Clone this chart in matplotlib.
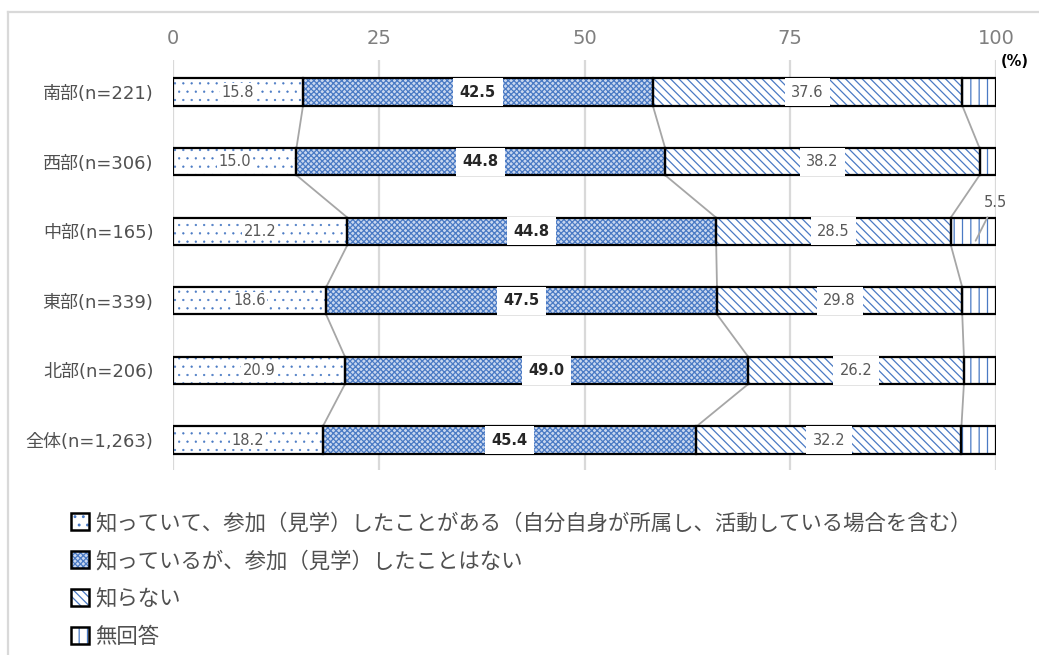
import matplotlib
matplotlib.use("Agg")
import matplotlib.pyplot as plt
import numpy as np
from matplotlib.lines import Line2D
from matplotlib.patches import Patch
from matplotlib.legend_handler import HandlerTuple

plt.rcParams['font.family'] = ['DejaVu Sans', 'Noto Sans CJK JP']
plt.rcParams['hatch.linewidth'] = 0.9

categories = ["南部(n=221)", "西部(n=306)", "中部(n=165)", "東部(n=339)", "北部(n=206)", "全体(n=1,263)"]
series_names = ["知っていて、参加（見学）したことがある（自分自身が所属し、活動している場合を含む）",
                "知っているが、参加（見学）したことはない",
                "知らない",
                "無回答"]
participated = [15.8, 15.0, 21.2, 18.6, 20.9, 18.2]
known_not = [42.5, 44.8, 44.8, 47.5, 49.0, 45.4]
unknown = [37.6, 38.2, 28.5, 29.8, 26.2, 32.2]
no_answer = [4.1, 2.0, 5.5, 4.1, 3.9, 4.2]
xticks = [0, 25, 50, 75, 100]

series = [participated, known_not, unknown, no_answer]
hatches = ['..', 'xxxxxx', '\\\\\\\\', '||']
hatch_lw = [0.4, 0.9, 0.9, 0.9]
faces = ['white', '#c9d7ef', 'white', 'white']
blue = '#4a7ac4'
label_styles = [
    dict(color='#595959', fontweight='normal'),
    dict(color='#262626', fontweight='bold'),
    dict(color='#595959', fontweight='normal'),
]

fig = plt.figure(figsize=(10.39, 6.55), dpi=100)
ax = fig.add_axes([173/1039, 1-470/655, 823/1039, 410/655])

y = np.arange(len(categories))
h = 0.39
left = np.zeros(len(categories))
for k, vals in enumerate(series):
    vals = np.array(vals)
    with plt.rc_context({'hatch.linewidth': hatch_lw[k]}):
        ax.barh(y, vals, left=left, height=h, color=faces[k], edgecolor=blue,
                linewidth=0, hatch=hatches[k], zorder=3)
    ax.barh(y, vals, left=left, height=h, fill=False, edgecolor='black',
            linewidth=1.6, zorder=4)
    if k < 3:
        for i, v in enumerate(vals):
            bb = dict(boxstyle='square,pad=0.45', fc='white', ec='none') if k > 0 else \
                 dict(boxstyle='square,pad=0.1', fc='white', ec='none')
            ax.text(left[i] + v/2, y[i], f"{v:.1f}", ha='center', va='center',
                    fontsize=10.5, zorder=5, bbox=bb, **label_styles[k])
    left = left + vals

# connector lines
cum = np.cumsum(np.array(series), axis=0)
for b in range(3):
    for i in range(len(categories)-1):
        ax.plot([cum[b][i], cum[b][i+1]], [y[i]+h/2, y[i+1]-h/2],
                color='#a6a6a6', lw=1.3, zorder=2)

# outside label for 中部 no answer
i = 2
ax.annotate(f"{no_answer[i]:.1f}", xy=(cum[2][i] + no_answer[i]*0.55, y[i]+h*0.35),
            xytext=(99.9, y[i]-0.42), textcoords='data', ha='center', va='center',
            fontsize=10.5, color='#595959',
            arrowprops=dict(arrowstyle='-', color='#a6a6a6', lw=1.3,
                            shrinkA=4, shrinkB=0), zorder=6)

ax.set_xlim(0, 100)
ax.set_ylim(5.43, -0.46)
ax.set_yticks(y)
ax.set_yticklabels(categories, fontsize=13, color='#505050')
ax.set_xticks(xticks)
ax.set_xticklabels([str(t) for t in xticks], fontsize=14, color='#7f7f7f')
ax.xaxis.tick_top()
ax.tick_params(axis='x', length=0, pad=9)
ax.tick_params(axis='y', length=0, pad=14)
for s in ax.spines.values():
    s.set_visible(False)
ax.grid(axis='x', color='#d9d9d9', lw=1.6, zorder=0)
ax.set_axisbelow(True)

fig.text(1015/1039, 1-62/655, "(%)", fontsize=10.5, fontweight='bold',
         ha='center', va='center', color='black')

# frame lines
fig.add_artist(Line2D([8/1039, 1], [1-12/655, 1-12/655], color='#d9d9d9', lw=1.6))
fig.add_artist(Line2D([8/1039, 8/1039], [0, 1-12/655], color='#d9d9d9', lw=1.6))

handles = []
for k in range(4):
    with plt.rc_context({'hatch.linewidth': hatch_lw[k]}):
        p1 = Patch(facecolor=faces[k], edgecolor=blue, hatch=hatches[k], linewidth=0)
    handles.append((p1, Patch(fill=False, edgecolor='black', linewidth=1.8)))
leg = fig.legend(handles, series_names, loc='upper left',
                 handler_map={tuple: HandlerTuple(ndivide=1)},
                 bbox_to_anchor=(71/1039, 1-512/655), frameon=False,
                 prop={'family': ['Noto Sans CJK JP'], 'size': 15.4},
                 handlelength=0.82, handleheight=0.82,
                 handletextpad=0.3, labelspacing=0.75, borderaxespad=0,
                 borderpad=0)
for t in leg.get_texts():
    t.set_color('#505050')

fig.savefig('out.png', dpi=100)
